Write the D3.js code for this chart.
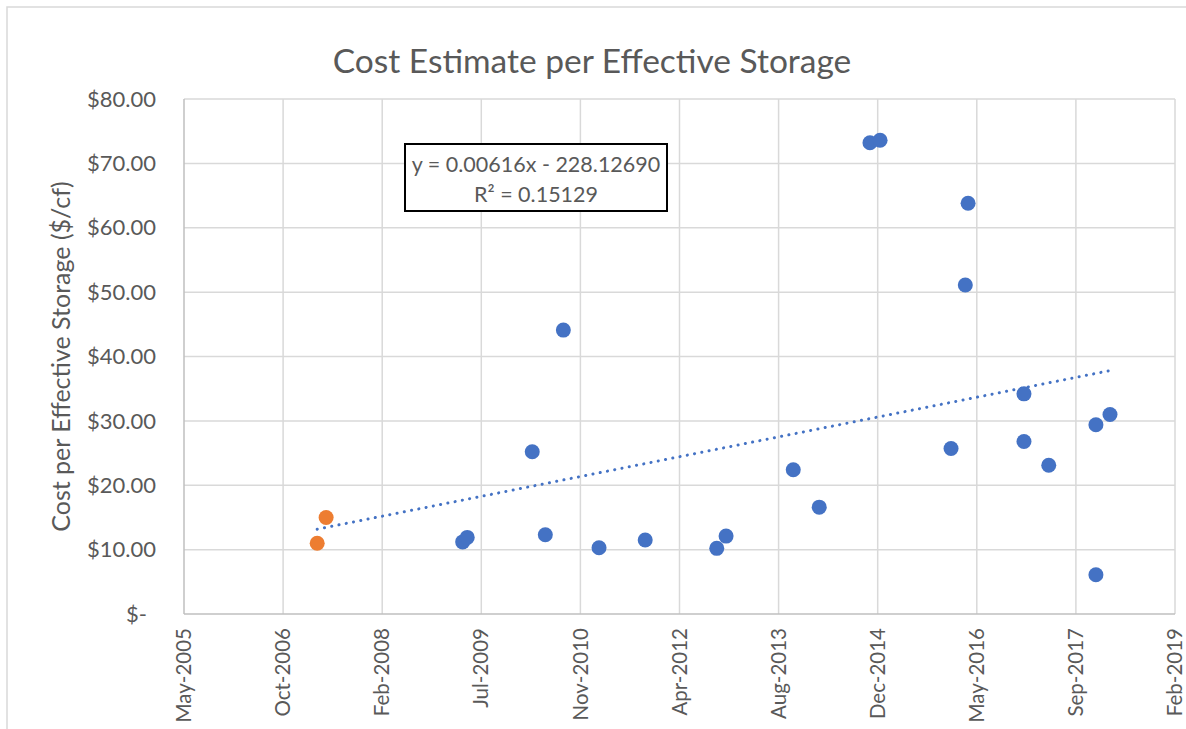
<!DOCTYPE html>
<html>
<head>
<meta charset="utf-8">
<script src="https://cdn.jsdelivr.net/npm/d3@7"></script>
<style>
  body { margin: 0; background: #fff; }
  text { font-family: Lato, "Open Sans", sans-serif; fill: #595959; }
</style>
</head>
<body>
<div id="chart"></div>
<script>
// Dates of each estimate and cost per effective storage ($/cf)
const blueDates = ["2009-04-03", "2009-04-26", "2010-03-20", "2010-05-25", "2010-08-24",
  "2011-02-20", "2011-10-11", "2012-10-06", "2012-11-22", "2013-10-27", "2014-03-07",
  "2014-11-18", "2015-01-08", "2016-01-01", "2016-03-13", "2016-03-27", "2017-01-03",
  "2017-01-03", "2017-05-08", "2018-01-01", "2018-03-13", "2018-01-01"];
const blueValues = [11.2, 11.9, 25.2, 12.3, 44.1, 10.3, 11.5, 10.2, 12.1, 22.4, 16.6,
  73.2, 73.6, 25.7, 51.1, 63.8, 34.2, 26.8, 23.1, 29.4, 31.0, 6.1];

const orangeDates = ["2007-03-31", "2007-05-15"];
const orangeValues = [11.0, 15.0];

// x axis ticks (Excel date axis, 500 day major unit)
const xTicks = ["2005-05-28", "2006-10-10", "2008-02-22", "2009-07-06", "2010-11-18",
  "2012-04-01", "2013-08-14", "2014-12-27", "2016-05-10", "2017-09-22", "2019-02-04"];
const yTicks = [0, 10, 20, 30, 40, 50, 60, 70, 80];

// linear trendline from Excel (x = Excel serial date)
const trendSlope = 0.00616;
const trendIntercept = -228.12690;
const trendR2 = 0.15129;

const width = 1186, height = 729;
const margin = { left: 184, right: 11, top: 99, bottom: 115 };

const parse = d3.utcParse("%Y-%m-%d");
const excelEpoch = Date.UTC(1899, 11, 30);
const toSerial = d => (d - excelEpoch) / 864e5;

const svg = d3.select("#chart").append("svg")
  .attr("width", width)
  .attr("height", height);

// chart border
svg.append("rect")
  .attr("x", 7).attr("y", 7)
  .attr("width", 1190).attr("height", 740)
  .attr("fill", "none")
  .attr("stroke", "#d9d9d9")
  .attr("stroke-width", 1.5);

const tickDates = xTicks.map(parse);

const x = d3.scaleUtc()
  .domain([tickDates[0], tickDates[tickDates.length - 1]])
  .range([margin.left, width - margin.right]);

const y = d3.scaleLinear()
  .domain([0, 80])
  .range([height - margin.bottom, margin.top]);

// gridlines
svg.append("g")
  .selectAll("line")
  .data(yTicks.slice(1))
  .join("line")
  .attr("x1", margin.left).attr("x2", width - margin.right)
  .attr("y1", d => y(d)).attr("y2", d => y(d))
  .attr("stroke", "#d9d9d9").attr("stroke-width", 1.5);

svg.append("g")
  .selectAll("line")
  .data(tickDates.slice(1))
  .join("line")
  .attr("x1", d => x(d)).attr("x2", d => x(d))
  .attr("y1", y(0)).attr("y2", y(80))
  .attr("stroke", "#d9d9d9").attr("stroke-width", 1.5);

// axis lines
svg.append("line")
  .attr("x1", margin.left).attr("x2", margin.left)
  .attr("y1", y(0)).attr("y2", y(80))
  .attr("stroke", "#bfbfbf").attr("stroke-width", 1.5);
svg.append("line")
  .attr("x1", margin.left).attr("x2", width - margin.right)
  .attr("y1", y(0)).attr("y2", y(0))
  .attr("stroke", "#bfbfbf").attr("stroke-width", 1.5);

// y axis labels
const yFormat = d => d === 0 ? "$-" : "$" + d3.format(".2f")(d);
svg.append("g")
  .selectAll("text")
  .data(yTicks)
  .join("text")
  .attr("x", d => d === 0 ? margin.left - 37 : margin.left - 28)
  .attr("y", d => y(d))
  .attr("dy", "0.35em")
  .attr("text-anchor", "end")
  .style("font-size", "22px")
  .text(yFormat);

// x axis labels, rotated
const xFormat = d3.utcFormat("%b-%Y");
svg.append("g")
  .selectAll("text")
  .data(tickDates)
  .join("text")
  .attr("transform", d => `translate(${x(d)},${y(0) + 14}) rotate(-90)`)
  .attr("dy", "0.35em")
  .attr("text-anchor", "end")
  .style("font-size", "20.5px")
  .text(xFormat);

// titles
svg.append("text")
  .attr("x", 592)
  .attr("y", 73)
  .attr("text-anchor", "middle")
  .style("font-size", "33.5px")
  .text("Cost Estimate per Effective Storage");

svg.append("text")
  .attr("transform", `translate(70,${(y(0) + y(80)) / 2}) rotate(-90)`)
  .attr("text-anchor", "middle")
  .style("font-size", "25px")
  .text("Cost per Effective Storage ($/cf)");

// trendline over the full data range
const allDates = blueDates.concat(orangeDates).map(parse);
const ext = d3.extent(allDates);
const trend = ext.map(d => ({ date: d, value: trendSlope * toSerial(d) + trendIntercept }));

svg.append("path")
  .datum(trend)
  .attr("d", d3.line().x(d => x(d.date)).y(d => y(d.value)))
  .attr("fill", "none")
  .attr("stroke", "#4472c4")
  .attr("stroke-width", 3)
  .attr("stroke-linecap", "round")
  .attr("stroke-dasharray", "0.1 7.3");

// points
const blue = blueDates.map((d, i) => ({ date: parse(d), value: blueValues[i] }));
const orange = orangeDates.map((d, i) => ({ date: parse(d), value: orangeValues[i] }));

svg.append("g")
  .selectAll("circle")
  .data(blue)
  .join("circle")
  .attr("cx", d => x(d.date))
  .attr("cy", d => y(d.value))
  .attr("r", 7.5)
  .attr("fill", "#4472c4");

svg.append("g")
  .selectAll("circle")
  .data(orange)
  .join("circle")
  .attr("cx", d => x(d.date))
  .attr("cy", d => y(d.value))
  .attr("r", 7.5)
  .attr("fill", "#ed7d31");

// trendline equation box
const box = svg.append("g").attr("transform", "translate(405,144)");
box.append("rect")
  .attr("width", 262).attr("height", 67)
  .attr("fill", "#fff")
  .attr("stroke", "#000")
  .attr("stroke-width", 2);
box.append("text")
  .attr("x", 131).attr("y", 28)
  .attr("text-anchor", "middle")
  .style("font-size", "21.5px")
  .text(`y = ${trendSlope.toFixed(5)}x - ${Math.abs(trendIntercept).toFixed(5)}`);
box.append("text")
  .attr("x", 131).attr("y", 58)
  .attr("text-anchor", "middle")
  .style("font-size", "21.5px")
  .text(`R² = ${trendR2.toFixed(5)}`);
</script>
</body>
</html>
